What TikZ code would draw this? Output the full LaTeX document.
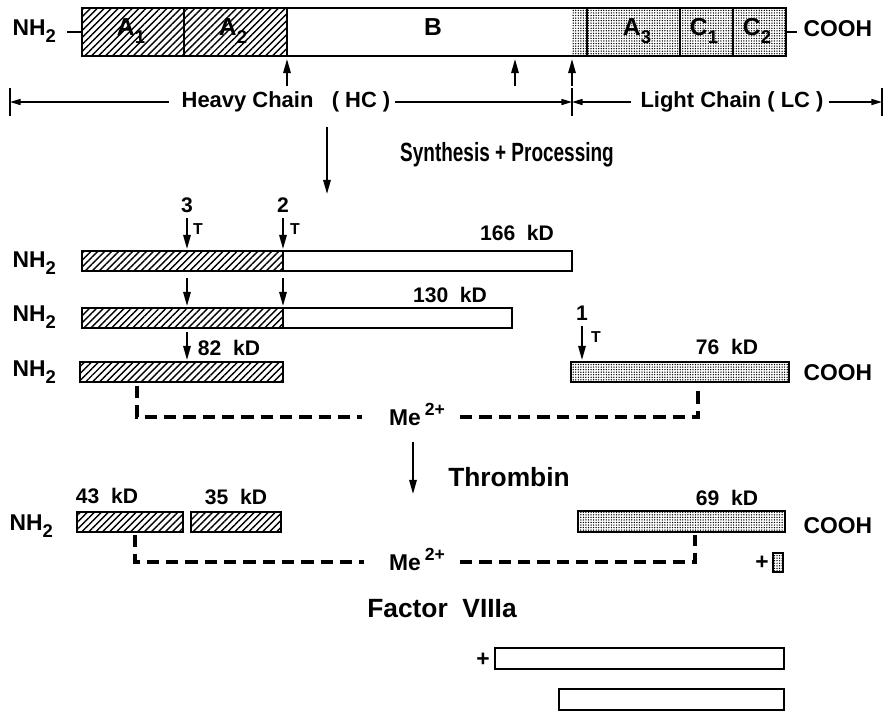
\documentclass[tikz,border=0pt]{standalone}
\usepackage{fontspec}
\setmainfont{Liberation Sans}
\newfontfamily\narrowfont{Liberation Sans}[FakeStretch=0.72]
\usetikzlibrary{patterns.meta,arrows.meta}

\newcommand{\lowsub}[1]{\raisebox{-0.65ex}{\fontsize{10.5}{11}\selectfont #1}}
\newcommand{\upsup}[1]{\raisebox{0.75ex}{\fontsize{10}{11}\selectfont #1}}

\tikzset{
  hatched/.style={draw, line width=1.4pt, pattern={Lines[angle=45,distance=2.8pt,line width=0.8pt]}},
  dotted fill/.style={pattern={Dots[radius=0.42pt,distance=1.45pt]}, pattern color=black},
  stippled/.style={draw, line width=1.4pt, dotted fill},
  bar/.style={draw, line width=1.4pt},
  cut/.style={-{Triangle[length=8pt,width=4.2pt]}, line width=1pt},
  dim/.style={-{Triangle[length=6pt,width=3.4pt]}, line width=0.9pt},
  link/.style={line width=1.8pt, dash pattern=on 7pt off 4pt},
  lbl/.style={font=\bfseries\fontsize{12}{14}\selectfont, inner sep=0pt},
  end/.style={font=\bfseries\fontsize{13}{15}\selectfont, inner sep=0pt},
  seg/.style={font=\bfseries\fontsize{14}{16}\selectfont, inner sep=0pt},
  tlbl/.style={font=\bfseries\fontsize{9}{10}\selectfont, inner sep=0pt},
  head/.style={font=\bfseries\fontsize{15}{17}\selectfont, inner sep=0pt},
}

\begin{document}
\begin{tikzpicture}[x=0.02cm, y=-0.02cm, thick]
\useasboundingbox (0,0) rectangle (887,711);

% precursor chain
\fill[dotted fill] (572,8) rectangle (786,56);
\draw[hatched] (82,8) rectangle (184,56);
\draw[hatched] (184,8) rectangle (287,56);
\draw[bar] (82,8) rectangle (786,56);
\foreach \x in {587,680,733}
  \draw[bar] (\x,8) -- (\x,56);

\node[seg, anchor=base] (a1) at (131,35) {A\lowsub{1}};
\node[seg, anchor=base] (a2) at (233,35) {A\lowsub{2}};
\node[seg, anchor=base] (b) at (433,35) {B};
\node[seg, anchor=base] (a3) at (637,35) {A\lowsub{3}};
\node[seg, anchor=base] (c1) at (704,35) {C\lowsub{1}};
\node[seg, anchor=base] (c2) at (757,35) {C\lowsub{2}};

\node[end, anchor=base west] (nh0) at (12,35) {NH\lowsub{2}};
\node[end, anchor=base west] (cooh0) at (803,36) {COOH};
\draw[line width=1.2pt] (67,32) -- (82,32);
\draw[line width=1.2pt] (786,32) -- (797,32);

\foreach \x in {287,515,572}
  \draw[cut] (\x,86) -- (\x,59);

% chain extents
\node[lbl, font=\bfseries\fontsize{12.5}{14}\selectfont] (hc) at (286,102) {Heavy Chain\ \ \ ( HC )};
\node[lbl, font=\bfseries\fontsize{12.5}{14}\selectfont] (lc) at (732,102) {Light Chain ( LC )};
\coordinate (hcl) at (10,102);
\coordinate (mid) at (572,102);
\coordinate (lcr) at (882,102);
\foreach \p in {hcl,mid,lcr}
  \draw[line width=1pt] ([yshift=8]\p) -- ([yshift=-8]\p);
\draw[dim] ([xshift=-7pt]hc.west) -- (hcl);
\draw[dim] ([xshift=2pt]hc.east) -- (mid);
\draw[dim] ([xshift=-5pt]lc.west) -- (mid);
\draw[dim] ([xshift=3pt]lc.east) -- (lcr);

\draw[cut] (327,127) -- (327,194);
\node[head, font=\bfseries\narrowfont\fontsize{15}{17}\selectfont] (synth) at (507,155) {Synthesis + Processing};

% 166 kD
\draw[bar] (283,251) rectangle (572,271);
\draw[hatched] (82,251) rectangle (283,271);
\node[lbl, anchor=base] (k166) at (517,240) {166\ \ kD};
% 130 kD
\draw[bar] (283,308) rectangle (512,328);
\draw[hatched] (82,308) rectangle (283,328);
\node[lbl, anchor=base] (k130) at (450,302) {130\ \ kD};
% 82 kD
\draw[hatched] (80,362) rectangle (283,382);
\node[lbl, anchor=base] (k82) at (229,355) {82\ \ kD};
% 76 kD
\draw[stippled] (571,362) rectangle (789,382);
\node[lbl, anchor=base] (k76) at (727,354) {76\ \ kD};

\foreach \y/\n in {267/1,321/2,376/3}
  \node[end, anchor=base west] (nh\n) at (12,\y) {NH\lowsub{2}};
\node[end, anchor=base west] (cooh3) at (803,380) {COOH};

% thrombin sites
\node[lbl] (s3) at (187,205) {3};
\node[lbl] (s2) at (283,205) {2};
\node[lbl] (s1) at (582,313) {1};
\draw[cut] ([yshift=-3pt]s3.south) -- (187,249);
\draw[cut] ([yshift=-3pt]s2.south) -- (283,249);
\draw[cut] ([yshift=-3pt]s1.south) -- (582,360);
\node[tlbl] (t3) at (198,229) {T};
\node[tlbl] (t2) at (295,229) {T};
\node[tlbl] (t1) at (596,337) {T};
\draw[cut] (187,278) -- (187,306);
\draw[cut] (283,278) -- (283,306);
\draw[cut] (187,332) -- (187,360);

% metal bridge
\node[end, anchor=base] (me1) at (417,425) {Me\,\upsup{2+}};
\draw[link] (137,386) -- (137,417) -- (362,417);
\draw[link] (460,417) -- (698,417) -- (698,385);

\draw[cut] (413,442) -- (413,494);
\node[head] (thr) at (509,477) {Thrombin};

% factor VIIIa
\draw[hatched] (77,512) rectangle (183,532);
\draw[hatched] (191,512) rectangle (281,532);
\draw[stippled] (578,511) rectangle (785,532);
\node[lbl, anchor=base] (k43) at (107,503) {43\ \ kD};
\node[lbl, anchor=base] (k35) at (236,504) {35\ \ kD};
\node[lbl, anchor=base] (k69) at (727,505) {69\ \ kD};
\node[end, anchor=base west] (nh4) at (9,530) {NH\lowsub{2}};
\node[end, anchor=base west] (cooh4) at (803,533) {COOH};

\node[end, anchor=base] (me2) at (417,570) {Me\,\upsup{2+}};
\draw[link] (135,535) -- (135,562) -- (364,562);
\draw[link] (460,562) -- (695,562) -- (695,535);
\node[end] (plus1) at (762,563) {+};
\draw[stippled, line width=1pt] (773,553) rectangle (783,572);

\node[head] (f8a) at (442,609) {Factor\ \ VIIIa};
\node[end] (plus2) at (483,660) {+};
\draw[bar] (495,648) rectangle (784,669);
\draw[bar] (559,689) rectangle (784,710);
\end{tikzpicture}
\end{document}
